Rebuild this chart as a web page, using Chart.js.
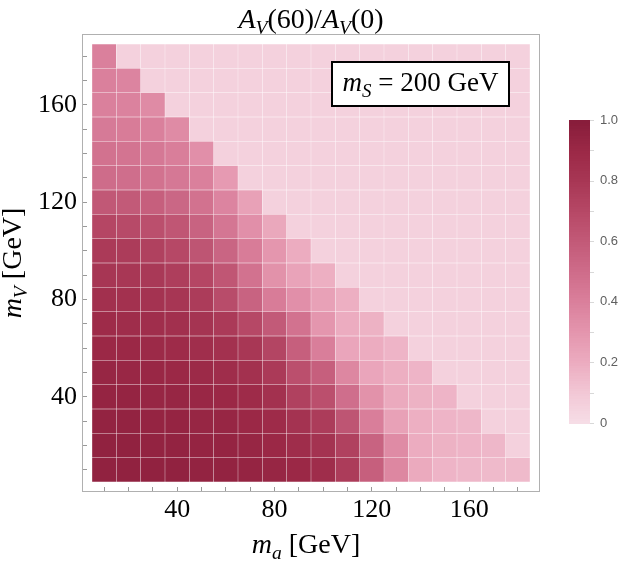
<!DOCTYPE html>
<html><head><meta charset="utf-8">
<script src="https://cdn.jsdelivr.net/npm/chart.js@4.4.1/dist/chart.umd.min.js"></script>
<style>html,body{margin:0;padding:0;background:#fff;}canvas{display:block;}</style>
</head><body>
<canvas id="c" width="630" height="563"></canvas>
<script>
// ---- data ----
const maValues = [10,20,30,40,50,60,70,80,90,100,110,120,130,140,150,160,170,180];
const mVValues = [10,20,30,40,50,60,70,80,90,100,110,120,130,140,150,160,170,180];
// ratio A_V(60)/A_V(0); rows follow mVValues (bottom to top), columns follow maValues
const ratio = [
  [0.95,0.95,0.95,0.95,0.94,0.94,0.93,0.92,0.90,0.87,0.77,0.57,0.37,0.21,0.17,0.16,0.15,0.15],
  [0.95,0.95,0.94,0.94,0.93,0.93,0.92,0.90,0.87,0.83,0.74,0.55,0.35,0.20,0.18,0.17,0.16,0.06],
  [0.94,0.94,0.93,0.93,0.92,0.92,0.90,0.88,0.83,0.77,0.63,0.41,0.25,0.19,0.17,0.16,0.06,0.06],
  [0.93,0.93,0.92,0.92,0.91,0.90,0.88,0.84,0.74,0.66,0.49,0.32,0.21,0.18,0.17,0.06,0.06,0.06],
  [0.92,0.91,0.91,0.90,0.89,0.87,0.84,0.78,0.66,0.57,0.37,0.23,0.19,0.17,0.06,0.06,0.06,0.06],
  [0.90,0.90,0.89,0.88,0.86,0.84,0.80,0.72,0.57,0.41,0.23,0.20,0.17,0.06,0.06,0.06,0.06,0.06],
  [0.88,0.87,0.86,0.85,0.82,0.78,0.70,0.60,0.47,0.30,0.20,0.18,0.06,0.06,0.06,0.06,0.06,0.06],
  [0.85,0.84,0.83,0.81,0.77,0.68,0.55,0.42,0.33,0.25,0.19,0.06,0.06,0.06,0.06,0.06,0.06,0.06],
  [0.81,0.80,0.79,0.76,0.71,0.62,0.47,0.32,0.24,0.19,0.06,0.06,0.06,0.06,0.06,0.06,0.06,0.06],
  [0.78,0.77,0.74,0.70,0.63,0.54,0.42,0.30,0.20,0.06,0.06,0.06,0.06,0.06,0.06,0.06,0.06,0.06],
  [0.71,0.69,0.66,0.62,0.55,0.45,0.33,0.22,0.06,0.06,0.06,0.06,0.06,0.06,0.06,0.06,0.06,0.06],
  [0.61,0.60,0.57,0.53,0.47,0.38,0.25,0.06,0.06,0.06,0.06,0.06,0.06,0.06,0.06,0.06,0.06,0.06],
  [0.50,0.49,0.47,0.44,0.40,0.28,0.06,0.06,0.06,0.06,0.06,0.06,0.06,0.06,0.06,0.06,0.06,0.06],
  [0.47,0.46,0.44,0.41,0.33,0.06,0.06,0.06,0.06,0.06,0.06,0.06,0.06,0.06,0.06,0.06,0.06,0.06],
  [0.43,0.42,0.40,0.35,0.06,0.06,0.06,0.06,0.06,0.06,0.06,0.06,0.06,0.06,0.06,0.06,0.06,0.06],
  [0.40,0.39,0.35,0.06,0.06,0.06,0.06,0.06,0.06,0.06,0.06,0.06,0.06,0.06,0.06,0.06,0.06,0.06],
  [0.40,0.38,0.06,0.06,0.06,0.06,0.06,0.06,0.06,0.06,0.06,0.06,0.06,0.06,0.06,0.06,0.06,0.06],
  [0.40,0.06,0.06,0.06,0.06,0.06,0.06,0.06,0.06,0.06,0.06,0.06,0.06,0.06,0.06,0.06,0.06,0.06]
];
const binWidth = 10;
const yRange = [5, 185];
const xTickLabels = [40,80,120,160];
const yTicks = [10,20,30,40,50,60,70,80,90,100,110,120,130,140,150,160,170,180];
const yTickLabels = [40,80,120,160];
const colorbarLabels = [0,0.2,0.4,0.6,0.8,1.0];
const colorbarMinor = [0.1,0.3,0.5,0.7,0.9];

// ---- style ----
const SERIF = "'Liberation Serif','Times New Roman',serif";
const SANS = "'Liberation Sans',Arial,sans-serif";
const cmapStops = [
  [0.0,246,222,231],[0.1,242,200,214],[0.2,236,172,192],[0.3,228,150,174],
  [0.4,218,128,156],[0.5,206,108,138],[0.6,194,90,120],[0.7,182,72,102],
  [0.8,168,55,85],[0.9,155,40,70],[1.0,135,28,58]
];
function cmap(v){
  v = Math.max(0, Math.min(1, v));
  for (let i = 1; i < cmapStops.length; i++) {
    const a = cmapStops[i-1], b = cmapStops[i];
    if (v <= b[0]) {
      const t = (v - a[0]) / (b[0] - a[0]);
      const c = [1,2,3].map(k => Math.round(a[k] + (b[k]-a[k])*t));
      return `rgb(${c[0]},${c[1]},${c[2]})`;
    }
  }
  const l = cmapStops[cmapStops.length-1];
  return `rgb(${l[1]},${l[2]},${l[3]})`;
}

function drawRich(ctx, segs, x, baseline, size, align){
  const parts = segs.map(s => {
    const fs = s.sub ? size*0.7 : size;
    const font = `${s.it ? 'italic ' : ''}${fs}px ${SERIF}`;
    ctx.font = font;
    return {t: s.t, sub: s.sub, font, w: ctx.measureText(s.t).width};
  });
  const total = parts.reduce((a,p) => a + p.w, 0);
  let cx = align === 'center' ? x - total/2 : x;
  ctx.textBaseline = 'alphabetic';
  ctx.textAlign = 'left';
  for (const p of parts) {
    ctx.font = p.font;
    ctx.fillText(p.t, cx, baseline + (p.sub ? size*0.22 : 0));
    cx += p.w;
  }
}

const decor = {
  id: 'decor',
  beforeDatasetsDraw(chart){
    const {ctx, chartArea: a} = chart;
    ctx.save();
    ctx.strokeStyle = '#b0b0b0';
    ctx.lineWidth = 1;
    ctx.strokeRect(a.left - 9.5, a.top - 9.5, a.right - a.left + 19, a.bottom - a.top + 19);
    ctx.restore();
  },
  afterDraw(chart){
    const {ctx, chartArea: a} = chart;
    ctx.save();
    ctx.fillStyle = '#000';
    // title
    drawRich(ctx, [{t:'A',it:true},{t:'V',it:true,sub:true},{t:'(60)/'},{t:'A',it:true},{t:'V',it:true,sub:true},{t:'(0)'}],
      (a.left + a.right)/2, 28, 28, 'center');
    // x title
    drawRich(ctx, [{t:'m',it:true},{t:'a',it:true,sub:true},{t:' [GeV]'}], (a.left + a.right)/2 - 5, 553, 28, 'center');
    // y title (rotated)
    ctx.save();
    ctx.translate(21, (a.top + a.bottom)/2);
    ctx.rotate(-Math.PI/2);
    drawRich(ctx, [{t:'m',it:true},{t:'V',it:true,sub:true},{t:' [GeV]'}], 0, 0, 28, 'center');
    ctx.restore();
    // inset label box
    const bx = 332, by = 62, bw = 177, bh = 44;
    ctx.fillStyle = '#fff';
    ctx.fillRect(bx, by, bw, bh);
    ctx.strokeStyle = '#000';
    ctx.lineWidth = 2;
    ctx.strokeRect(bx, by, bw, bh);
    ctx.fillStyle = '#000';
    drawRich(ctx, [{t:'m',it:true},{t:'S',it:true,sub:true},{t:' = 200 GeV'}], bx + bw/2, 91, 27, 'center');
    // colorbar
    const cx0 = 569, cw = 21, cy0 = 120, ch = 303;
    const steps = 120;
    for (let i = 0; i < steps; i++) {
      const v = (i + 0.5) / steps;
      ctx.fillStyle = cmap(v);
      const y1 = cy0 + ch - (i+1)*ch/steps;
      ctx.fillRect(cx0, Math.floor(y1), cw, Math.ceil(ch/steps) + 1);
    }
    ctx.strokeStyle = '#d8d8d8';
    ctx.lineWidth = 1;
    for (const v of colorbarLabels.concat(colorbarMinor)) {
      const y = Math.round(cy0 + ch - v*ch) + 0.5;
      ctx.beginPath(); ctx.moveTo(cx0 + cw, y); ctx.lineTo(cx0 + cw + 4, y); ctx.stroke();
    }
    ctx.fillStyle = '#606060';
    ctx.font = `13px ${SANS}`;
    ctx.textAlign = 'left';
    ctx.textBaseline = 'middle';
    for (const v of colorbarLabels) {
      const y = cy0 + ch - v*ch;
      ctx.fillText(v === 0 ? '0' : v.toFixed(1), 600, y);
    }
    ctx.restore();
  }
};

const datasets = mVValues.map((mv, r) => ({
  data: maValues.map(() => [mv - binWidth/2, mv + binWidth/2]),
  backgroundColor: ratio[r].map(cmap),
  borderColor: 'rgba(255,255,255,0.11)',
  borderWidth: 0.5,
  borderSkipped: false,
  grouped: false,
  barPercentage: 1,
  categoryPercentage: 1
}));

new Chart(document.getElementById('c'), {
  type: 'bar',
  data: { labels: maValues, datasets },
  options: {
    responsive: false,
    animation: false,
    events: [],
    layout: { padding: { left: 0, top: 44, right: 100, bottom: 0 } },
    plugins: { legend: { display: false }, tooltip: { enabled: false }, title: { display: false } },
    scales: {
      x: {
        type: 'category',
        offset: true,
        afterFit(s){ s.height = 81; },
        border: { display: false },
        grid: { display: true, offset: false, drawOnChartArea: false, drawTicks: true, tickLength: 10,
                tickColor: '#999', tickWidth: 1, tickBorderDash: [5,5], tickBorderDashOffset: 5 },
        ticks: {
          autoSkip: false, maxRotation: 0, minRotation: 0, padding: 3, color: '#000',
          font: { family: SERIF, size: 26 },
          callback(v, i){ return xTickLabels.includes(maValues[i]) ? String(maValues[i]) : ''; }
        }
      },
      y: {
        type: 'linear',
        min: yRange[0], max: yRange[1],
        afterFit(s){ s.width = 92; },
        afterBuildTicks(s){ s.ticks = yTicks.map(v => ({ value: v })); },
        border: { display: false },
        grid: { display: true, drawOnChartArea: false, drawTicks: true, tickLength: 10,
                tickColor: '#999', tickWidth: 1, tickBorderDash: [5,100] },
        ticks: {
          autoSkip: false, padding: 5, color: '#000',
          font: { family: SERIF, size: 26 },
          callback(v){ return yTickLabels.includes(v) ? String(v) : ''; }
        }
      }
    }
  },
  plugins: [decor]
});
</script>
</body></html>
